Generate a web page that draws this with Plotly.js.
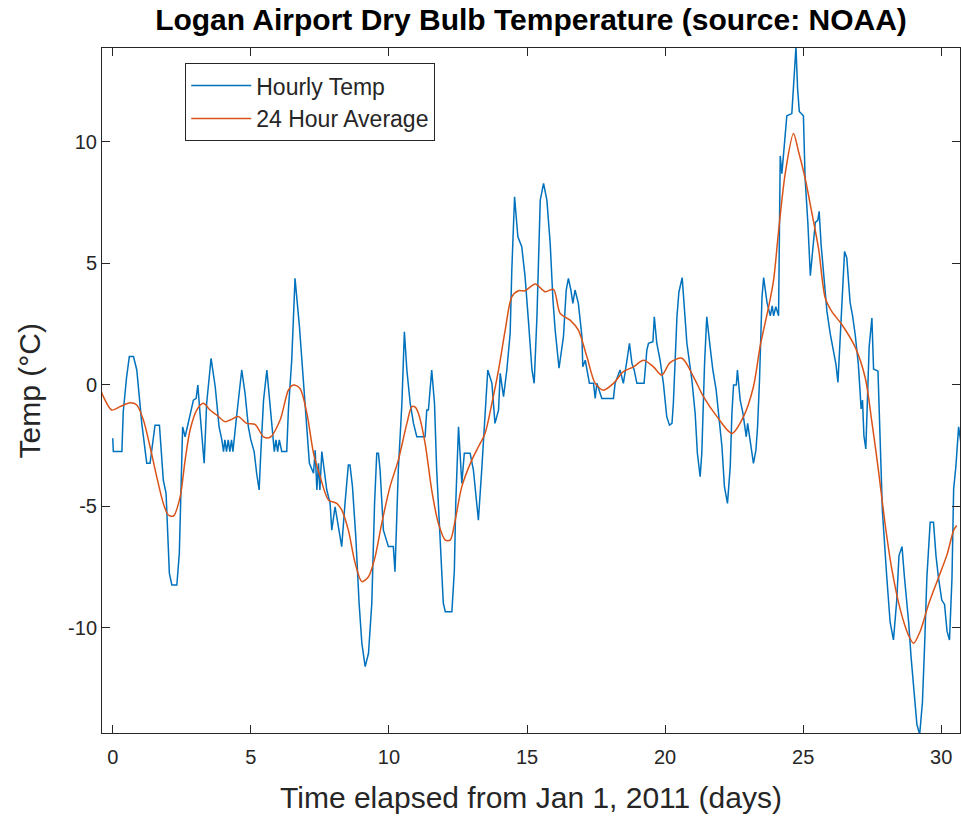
<!DOCTYPE html>
<html>
<head>
<meta charset="utf-8">
<script src="https://cdn.plot.ly/plotly-3.0.1.min.js"></script>
<style>html,body{margin:0;padding:0;background:#fff;}#chart{width:961px;height:820px;}</style>
</head>
<body>
<div id="chart"></div>
<script>
const chartTitle = "Logan Airport Dry Bulb Temperature (source: NOAA)";
const xLabel = "Time elapsed from Jan 1, 2011 (days)";
const yLabel = "Temp (°C)";
const seriesNames = ["Hourly Temp", "24 Hour Average"];
const xTicks = [0, 5, 10, 15, 20, 25, 30];
const yTicks = [-10, -5, 0, 5, 10];

const hourlyDays = [0.00,0.02,0.33,0.38,0.50,0.60,0.75,0.87,1.05,1.23,1.35,1.41,1.53,1.69,1.83,1.93,2.05,2.14,2.32,2.41,2.53,2.62,2.70,2.80,2.92,3.02,3.08,3.14,3.22,3.31,3.40,3.56,3.71,3.85,3.95,4.01,4.06,4.12,4.18,4.24,4.30,4.35,4.47,4.67,4.79,4.91,5.00,5.12,5.21,5.30,5.36,5.46,5.58,5.70,5.79,5.85,5.91,5.97,6.03,6.12,6.30,6.36,6.48,6.60,6.76,6.93,7.12,7.27,7.33,7.39,7.45,7.50,7.57,7.75,7.87,7.93,8.05,8.11,8.20,8.29,8.41,8.53,8.59,8.68,8.80,8.92,9.02,9.14,9.26,9.38,9.48,9.56,9.62,9.68,9.80,9.98,10.16,10.22,10.34,10.47,10.56,10.65,10.77,10.89,11.01,11.31,11.37,11.43,11.55,11.65,11.73,11.85,11.97,12.04,12.28,12.37,12.42,12.52,12.64,12.73,12.94,13.06,13.15,13.24,13.36,13.48,13.58,13.73,13.78,13.84,13.97,14.03,14.15,14.27,14.39,14.45,14.55,14.67,14.81,14.93,15.05,15.18,15.26,15.36,15.48,15.60,15.72,15.84,15.94,16.02,16.16,16.32,16.42,16.50,16.59,16.66,16.74,16.86,16.99,17.02,17.11,17.17,17.26,17.41,17.47,17.53,17.71,18.13,18.19,18.37,18.49,18.62,18.71,18.80,18.88,18.98,19.24,19.34,19.40,19.56,19.61,19.70,19.82,19.94,20.06,20.16,20.25,20.30,20.43,20.50,20.62,20.79,20.97,21.09,21.17,21.27,21.33,21.43,21.51,21.63,21.73,21.85,21.93,22.06,22.15,22.26,22.36,22.42,22.48,22.58,22.62,22.72,22.82,22.88,22.94,22.99,23.06,23.14,23.20,23.29,23.35,23.42,23.51,23.57,23.69,23.81,23.88,23.93,24.01,24.11,24.17,24.23,24.29,24.41,24.59,24.69,24.74,24.80,24.86,25.01,25.07,25.17,25.26,25.32,25.44,25.53,25.58,25.65,25.74,25.86,25.98,26.10,26.19,26.26,26.34,26.43,26.50,26.58,26.70,26.79,26.88,27.00,27.07,27.10,27.15,27.20,27.27,27.34,27.39,27.49,27.55,27.71,27.79,27.87,28.03,28.15,28.27,28.39,28.47,28.58,28.67,28.82,28.91,29.00,29.12,29.22,29.32,29.40,29.48,29.60,29.72,29.81,29.90,30.02,30.12,30.21,30.30,30.39,30.45,30.53,30.63,30.72];
const hourlyTemps = [-2.21,-2.76,-2.76,-1.12,0.30,1.15,1.15,0.60,-1.60,-3.24,-3.24,-2.76,-1.67,-1.67,-3.93,-4.48,-7.77,-8.25,-8.25,-6.95,-1.74,-2.15,-1.74,-1.12,-0.64,-0.57,-0.02,-0.91,-2.00,-3.24,-0.77,1.08,-0.09,-1.74,-2.28,-2.76,-2.28,-2.76,-2.28,-2.76,-2.28,-2.76,-1.46,0.60,-0.36,-1.74,-2.28,-2.76,-3.65,-4.34,-2.83,-0.64,0.60,-0.91,-2.28,-2.76,-2.28,-2.76,-2.28,-2.76,-2.76,-1.05,1.00,4.37,2.38,-0.36,-3.24,-3.65,-2.70,-4.34,-3.24,-4.34,-2.76,-4.34,-4.89,-5.99,-5.03,-5.44,-5.99,-6.67,-4.89,-3.31,-3.31,-4.20,-6.26,-9.00,-10.65,-11.61,-11.06,-9.00,-4.89,-2.83,-2.83,-3.52,-5.99,-6.67,-6.67,-7.70,-3.52,-0.77,2.17,0.60,-0.77,-1.60,-2.15,-2.15,-1.05,-1.05,0.60,-0.77,-3.52,-6.26,-9.00,-9.35,-9.35,-7.63,-4.89,-1.74,-4.07,-2.83,-2.83,-3.52,-4.62,-5.58,-3.52,-1.05,0.60,0.05,-0.77,-1.60,-1.05,0.46,-0.50,0.60,2.10,4.71,7.73,6.08,5.67,4.44,2.65,0.60,0.05,2.79,7.59,8.28,7.59,5.81,3.48,2.24,0.67,1.97,3.89,4.37,3.89,3.34,3.89,3.34,1.97,0.73,1.00,0.60,0.05,0.05,-0.57,0.05,-0.57,-0.57,0.05,0.60,0.05,1.00,1.70,0.87,0.60,0.05,0.05,1.42,1.70,1.76,2.79,1.70,1.00,0.05,-1.32,-1.67,-1.60,-0.77,2.79,3.80,4.40,1.70,0.19,-1.19,-2.83,-3.79,-2.83,0.87,2.79,1.56,0.60,-0.23,-1.19,-2.56,-4.20,-4.89,-3.38,-1.19,-0.02,-0.02,0.60,-0.64,-1.19,-1.74,-2.15,-1.60,-2.15,-2.70,-3.24,-2.70,-1.74,0.19,3.61,4.40,3.38,2.83,3.24,2.83,3.20,2.83,9.41,8.68,9.41,11.06,11.15,12.89,13.89,12.16,11.24,11.06,8.50,6.67,4.48,5.21,6.67,6.76,7.13,5.76,4.48,3.02,2.10,1.37,0.82,0.09,2.10,4.11,5.48,5.21,3.38,2.83,2.10,0.82,-0.64,-1.00,-0.64,-2.10,-2.65,-0.64,1.55,2.74,0.64,0.55,-2.47,-5.21,-7.95,-9.78,-10.51,-8.87,-7.04,-6.67,-7.95,-9.78,-11.24,-12.52,-13.99,-14.40,-13.07,-10.69,-7.95,-5.67,-5.67,-7.04,-7.95,-8.87,-9.05,-10.15,-10.51,-7.95,-4.30,-3.38,-1.74,-2.47];

const avgDays = [-0.46,-0.34,-0.04,0.26,0.63,0.87,1.11,1.35,1.59,1.83,2.01,2.20,2.44,2.62,2.80,3.04,3.28,3.52,3.77,4.07,4.25,4.55,4.85,5.15,5.46,5.70,6.06,6.36,6.54,6.78,7.03,7.27,7.51,7.81,8.11,8.29,8.53,8.78,9.02,9.26,9.50,9.74,10.04,10.34,10.65,10.83,10.95,11.07,11.31,11.55,11.79,12.04,12.22,12.40,12.64,13.00,13.24,13.48,13.73,13.97,14.21,14.45,14.69,14.93,15.30,15.66,15.96,16.20,16.56,16.86,17.17,17.47,17.77,18.13,18.49,18.86,19.22,19.58,19.88,20.18,20.61,21.03,21.39,21.88,22.42,22.84,23.20,23.44,23.75,23.93,24.11,24.35,24.65,24.83,25.07,25.32,25.56,25.80,26.03,26.40,26.88,27.25,27.49,27.73,27.97,28.21,28.51,28.82,29.00,29.24,29.54,29.90,30.21,30.45,30.56];
const avgTemps = [-0.16,-0.50,-1.05,-0.91,-0.75,-0.84,-1.46,-2.56,-3.79,-4.89,-5.37,-5.41,-4.62,-3.11,-1.87,-1.05,-0.77,-1.05,-1.26,-1.53,-1.46,-1.32,-1.60,-1.64,-2.15,-2.17,-1.46,-0.23,-0.02,-0.16,-1.19,-2.83,-3.79,-4.75,-4.89,-5.16,-5.99,-7.36,-8.11,-7.91,-7.09,-5.71,-4.20,-3.11,-1.60,-0.91,-0.93,-1.19,-2.42,-4.34,-5.71,-6.40,-6.40,-5.58,-4.20,-3.11,-2.56,-2.01,-0.77,0.60,2.24,3.61,3.86,3.86,4.14,3.82,3.92,2.93,2.65,2.24,1.14,0.05,-0.23,0.05,0.53,0.73,1.00,0.73,0.39,0.90,1.08,0.32,-0.50,-1.32,-2.01,-1.32,-0.09,1.56,3.20,4.30,6.31,8.68,10.33,9.60,8.50,7.04,5.58,3.56,3.02,2.47,1.55,0.27,-1.55,-3.56,-5.76,-7.59,-9.23,-10.33,-10.65,-10.15,-9.05,-7.95,-7.00,-6.00,-5.80];

const FONT = "Liberation Sans, Arial, Helvetica, sans-serif";
const AX = "#262626";

const traces = [
  {x: hourlyDays, y: hourlyTemps, name: seriesNames[0], type: "scatter", mode: "lines",
   line: {color: "#0072BD", width: 1.5}},
  {x: avgDays, y: avgTemps, name: seriesNames[1], type: "scatter", mode: "lines",
   line: {color: "#D95319", width: 1.5, shape: "spline", smoothing: 0.8}}
];

const axisCommon = {
  showgrid: false, zeroline: false, showline: true, linecolor: AX, linewidth: 1,
  mirror: "ticks", ticks: "inside", ticklen: 8, tickcolor: AX, tickwidth: 1,
  tickfont: {family: FONT, size: 20, color: AX}
};

const layout = {
  width: 961, height: 820,
  paper_bgcolor: "#fff", plot_bgcolor: "#fff",
  margin: {l: 102, r: 1, t: 48, b: 87},
  showlegend: true,
  title: {text: "<b>" + chartTitle + "</b>", font: {family: FONT, size: 30, color: "#000"},
          x: 0.5, xref: "paper", xanchor: "center", y: 0.976, yref: "container", yanchor: "middle"},
  xaxis: Object.assign({}, axisCommon, {
    range: [-0.39, 30.68], tickvals: xTicks, ticktext: xTicks.map(String),
    ticklabelstandoff: 6,
    title: {text: xLabel, font: {family: FONT, size: 30, color: AX}, standoff: 19}
  }),
  yaxis: Object.assign({}, axisCommon, {
    range: [-14.34, 13.85], tickvals: yTicks, ticktext: yTicks.map(String)
  }),
  annotations: [{
    text: yLabel, textangle: -90, showarrow: false,
    xref: "paper", yref: "paper", x: -0.084, y: 0.5, xanchor: "center", yanchor: "middle",
    font: {family: FONT, size: 30, color: AX}
  }],
  legend: {x: 0.097, y: 0.978, xanchor: "left", yanchor: "top", xref: "paper", yref: "paper",
           bgcolor: "#fff", bordercolor: AX, borderwidth: 1, itemwidth: 60,
           font: {family: FONT, size: 23, color: AX}, tracegroupgap: 0}
};

Plotly.newPlot("chart", traces, layout, {displayModeBar: false, staticPlot: true});
</script>
</body>
</html>
